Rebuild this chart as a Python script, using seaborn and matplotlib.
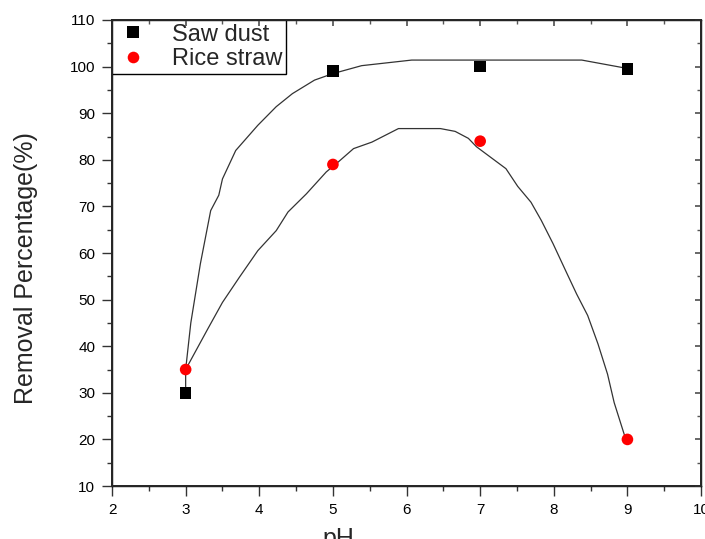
import matplotlib
matplotlib.use("Agg")
import matplotlib.pyplot as plt
from matplotlib.ticker import MultipleLocator
import pandas as pd
import seaborn as sns

# Measured removal percentages
ph = [3, 5, 7, 9]
saw_dust = [30.0, 99.0, 100.0, 99.5]
rice_straw = [35.0, 79.0, 84.0, 20.0]

# Smoothed trend lines through each series
saw_curve_x = [3.0, 3.0, 3.07, 3.2, 3.34, 3.45, 3.5, 3.68, 3.98, 4.23, 4.45,
               4.75, 5.0, 5.39, 6.07, 8.38, 9.0]
saw_curve_y = [30.0, 35.0, 45.0, 57.7, 69.1, 72.4, 75.9, 82.0, 87.4, 91.4, 94.2,
               97.1, 98.5, 100.2, 101.4, 101.4, 99.6]
rice_curve_x = [3.0, 3.3, 3.5, 3.73, 3.98, 4.23, 4.39, 4.64, 4.91, 5.07, 5.28,
                5.53, 5.89, 6.46, 6.66, 6.84, 6.95, 7.35, 7.51, 7.69, 7.83, 7.99,
                8.17, 8.31, 8.46, 8.60, 8.73, 8.82, 8.97]
rice_curve_y = [35.0, 43.7, 49.4, 54.8, 60.5, 64.8, 68.8, 72.7, 77.4, 79.5, 82.4,
                83.8, 86.7, 86.7, 86.1, 84.6, 82.8, 78.1, 74.3, 70.9, 67.0, 62.0,
                55.9, 51.2, 46.6, 40.5, 34.0, 27.9, 20.4]

x_ticks = [2, 3, 4, 5, 6, 7, 8, 9, 10]
y_ticks = [10, 20, 30, 40, 50, 60, 70, 80, 90, 100, 110]

sns.set_theme(style="ticks")
plt.rcParams["font.family"] = ["Liberation Sans", "DejaVu Sans"]

fig = plt.figure(figsize=(7.05, 5.39), dpi=100)
ax = fig.add_axes([0.1589, 0.0983, 0.8355, 0.8646])

points = pd.DataFrame({
    "pH": ph * 2,
    "removal": saw_dust + rice_straw,
    "sorbent": ["Saw dust"] * len(ph) + ["Rice straw"] * len(ph),
})
saw_line = pd.DataFrame({"pH": saw_curve_x, "removal": saw_curve_y})
rice_line = pd.DataFrame({"pH": rice_curve_x, "removal": rice_curve_y})

sns.lineplot(data=saw_line, x="pH", y="removal", sort=False, estimator=None,
             color="#333333", linewidth=0.9, ax=ax, zorder=2)
sns.lineplot(data=rice_line, x="pH", y="removal", sort=False, estimator=None,
             color="#333333", linewidth=0.9, ax=ax, zorder=2)

sns.scatterplot(data=points, x="pH", y="removal", hue="sorbent", style="sorbent",
                palette={"Saw dust": "black", "Rice straw": "#ff0000"},
                markers={"Saw dust": "s", "Rice straw": "o"},
                s=70, linewidth=0, ax=ax, zorder=3)

ax.set_xlim(2, 10)
ax.set_ylim(10, 110)
ax.set_xticks(x_ticks)
ax.set_yticks(y_ticks)
ax.xaxis.set_minor_locator(MultipleLocator(0.5))
ax.yaxis.set_minor_locator(MultipleLocator(5))

ax.tick_params(axis="both", which="major", direction="out", length=7, width=1,
               color="#333333", labelsize=11, labelcolor="black", pad=5)
ax.tick_params(axis="both", which="minor", direction="out", length=3.5, width=1,
               color="#333333")
ax.tick_params(top=False, right=False)

for side in ["left", "bottom", "top", "right"]:
    ax.spines[side].set_color("black")
    ax.spines[side].set_linewidth(1.0)
    ax.spines[side].set_visible(True)

# Inward ticks on the top and right edges
twin_x = ax.twiny()
twin_x.set_xlim(ax.get_xlim())
twin_x.set_xticks(x_ticks)
twin_x.xaxis.set_minor_locator(MultipleLocator(0.5))
twin_x.tick_params(which="both", direction="in", labeltop=False, color="#555555")
twin_x.tick_params(which="major", length=4)
twin_x.tick_params(which="minor", length=3)
twin_y = ax.twinx()
twin_y.set_ylim(ax.get_ylim())
twin_y.set_yticks(y_ticks)
twin_y.yaxis.set_minor_locator(MultipleLocator(5))
twin_y.tick_params(which="both", direction="in", labelright=False, color="#555555")
twin_y.tick_params(which="major", length=4)
twin_y.tick_params(which="minor", length=3)

ax.set_xlabel("pH", fontsize=18)
ax.set_ylabel("Removal Percentage(%)", fontsize=18)
ax.xaxis.set_label_coords(0.385, -0.088)
ax.yaxis.set_label_coords(-0.125, 0.467)

handles, labels = ax.get_legend_handles_labels()
leg = ax.legend(handles, labels, loc="upper left", bbox_to_anchor=(0, 1),
                borderaxespad=0, fontsize=17, frameon=True, fancybox=False,
                framealpha=1, edgecolor="black", borderpad=0.15,
                handletextpad=0.9, labelspacing=0.12, handlelength=1.5,
                markerscale=1.0)
leg.get_frame().set_linewidth(1.0)
leg.set_zorder(5)

fig.savefig("out.png", dpi=100)
